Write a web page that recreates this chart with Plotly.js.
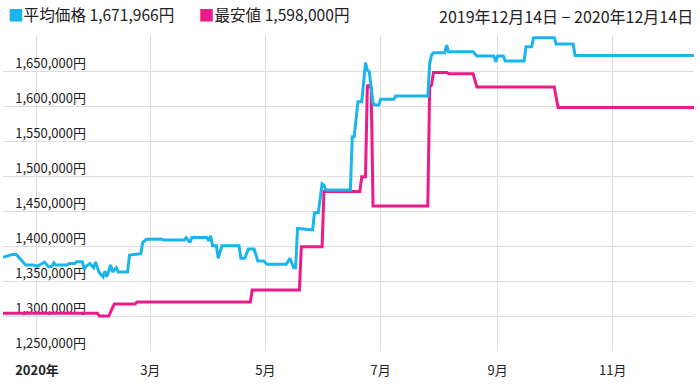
<!DOCTYPE html>
<html>
<head>
<meta charset="utf-8">
<script src="https://cdn.plot.ly/plotly-3.0.1.min.js"></script>
<style>html,body{margin:0;padding:0;background:#fff;}#chart{width:700px;height:388px;}</style>
</head>
<body>
<div id="chart"></div>
<script>
const seriesNames = ['平均価格', '最安値'];
const legendValues = ['1,671,966円', '1,598,000円'];
const seriesColors = ['#1bb5ee', '#ee1a8a'];
const periodText = '2019年12月14日 − 2020年12月14日';

const avgDates = ['2019-12-14','2019-12-17','2019-12-19','2019-12-21','2019-12-22','2019-12-24','2019-12-26','2019-12-30',
'2020-01-01','2020-01-03','2020-01-05','2020-01-07','2020-01-09','2020-01-10','2020-01-11','2020-01-17','2020-01-18','2020-01-21',
'2020-01-22','2020-01-25','2020-01-26','2020-01-27','2020-01-29','2020-01-31','2020-02-01','2020-02-02','2020-02-03','2020-02-05',
'2020-02-06','2020-02-07','2020-02-09','2020-02-10','2020-02-12','2020-02-13','2020-02-18','2020-02-19','2020-02-24','2020-02-25',
'2020-02-26','2020-02-28','2020-03-07','2020-03-08','2020-03-19','2020-03-20','2020-03-22','2020-03-23','2020-03-31','2020-04-01',
'2020-04-02','2020-04-03','2020-04-05','2020-04-06','2020-04-08','2020-04-17','2020-04-18','2020-04-20','2020-04-22','2020-04-25',
'2020-04-27','2020-04-30','2020-05-02','2020-05-12','2020-05-14','2020-05-16','2020-05-17','2020-05-18','2020-05-26','2020-05-27',
'2020-05-29','2020-05-31','2020-06-01','2020-06-02','2020-06-15','2020-06-16','2020-06-17','2020-06-19','2020-06-21','2020-06-23',
'2020-06-24','2020-06-25','2020-06-27','2020-06-28','2020-06-30','2020-07-01','2020-07-08','2020-07-09','2020-07-26','2020-07-27',
'2020-07-28','2020-07-29','2020-08-04','2020-08-05','2020-08-06','2020-08-19','2020-08-21','2020-08-30','2020-08-31','2020-09-01',
'2020-09-04','2020-09-05','2020-09-15','2020-09-16','2020-09-19','2020-09-20','2020-10-01','2020-10-02','2020-10-11','2020-10-12',
'2020-12-14'];
const avgValues = [1384000,1386000,1388000,1388000,1385000,1378000,1373000,1373000,
1371000,1374000,1377000,1370500,1371000,1376000,1373000,1373000,1375000,1375000,
1377600,1377600,1367000,1371000,1375000,1369000,1377000,1369000,1362000,1356000,
1364000,1356000,1373000,1363000,1369000,1363000,1363000,1387000,1388000,1389000,
1405000,1409500,1410000,1408600,1408600,1412000,1405000,1412000,1412000,1407000,
1414700,1400400,1400400,1382400,1400400,1400400,1382400,1382400,1395700,1395700,
1378600,1378600,1373800,1373800,1382400,1369000,1369000,1425000,1423000,1447600,
1447600,1489000,1487000,1480000,1480000,1556000,1556000,1606000,1606000,1662000,
1651000,1649000,1604000,1601400,1601400,1609500,1609500,1614300,1614300,1661000,
1673000,1676000,1676000,1687000,1677600,1677600,1671400,1671400,1663300,1671400,
1671400,1664300,1664300,1684700,1684700,1697600,1697600,1688600,1688600,1671966,
1671966];

const minDates = ['2019-12-14','2020-02-02','2020-02-03','2020-02-08','2020-02-10','2020-02-11','2020-02-22','2020-02-23',
'2020-04-23','2020-04-24','2020-05-19','2020-05-20','2020-05-31','2020-06-01','2020-06-20','2020-06-21','2020-06-23','2020-06-24',
'2020-06-26','2020-06-27','2020-07-26','2020-07-27','2020-07-28','2020-07-29','2020-08-05','2020-08-06','2020-08-19','2020-08-21',
'2020-10-01','2020-10-03','2020-12-14'];
const minValues = [1304000,1304000,1300000,1300000,1312000,1317000,1317000,1320000,
1320000,1337000,1337000,1399000,1399000,1478000,1478000,1499000,1499000,1630000,
1626000,1457000,1457000,1627000,1630000,1648000,1648000,1646000,1646000,1627000,
1627000,1598000,1598000];

const xTickVals = ['2020-01-01','2020-03-01','2020-05-01','2020-07-01','2020-09-01','2020-11-01'];
const xTickText = ['<b>2020年</b>','3月','5月','7月','9月','11月'];
const yTickVals = [1250000,1300000,1350000,1400000,1450000,1500000,1550000,1600000,1650000,1700000];
const yTickText = ['1,250,000円','1,300,000円','1,350,000円','1,400,000円','1,450,000円','1,500,000円','1,550,000円','1,600,000円','1,650,000円',''];

const font = '"Noto Sans CJK JP", "Noto Sans", sans-serif';

const traces = [
  {x: minDates, y: minValues, name: seriesNames[1], type: 'scatter', mode: 'lines',
   line: {color: seriesColors[1], width: 3}, hoverinfo: 'skip'},
  {x: avgDates, y: avgValues, name: seriesNames[0], type: 'scatter', mode: 'lines',
   line: {color: seriesColors[0], width: 3}, hoverinfo: 'skip'}
];

const layout = {
  width: 700, height: 388,
  margin: {l: 3, r: 6, t: 36, b: 37},
  paper_bgcolor: '#ffffff', plot_bgcolor: '#ffffff',
  showlegend: false,
  font: {family: font, size: 13, color: '#222'},
  xaxis: {
    type: 'date', range: ['2019-12-14', '2020-12-14'],
    domain: [0, 1],
    tickvals: xTickVals, ticktext: xTickText,
    showgrid: true, gridcolor: '#dddddd', gridwidth: 1,
    zeroline: false, showline: false, ticks: '',
    ticklabelstandoff: 10,
    tickfont: {family: font, size: 13, color: '#222'},
    layer: 'below traces', fixedrange: true
  },
  yaxis: {
    range: [1250000, 1700000],
    anchor: 'free', position: 0.12,
    tickvals: yTickVals, ticktext: yTickText,
    showgrid: true, gridcolor: '#dddddd', gridwidth: 1,
    zeroline: false, showline: false, ticks: '',
    ticklabelstandoff: 0,
    ticklabelshift: -8,
    tickfont: {family: font, size: 13, color: '#222'},
    layer: 'below traces', fixedrange: true
  },
  annotations: [
    {xref: 'paper', yref: 'paper', x: 0, y: 1, xshift: 3, yshift: 22, xanchor: 'left', yanchor: 'middle',
     showarrow: false, font: {family: font, size: 15.6, color: '#222'},
     text: '<span style="color:' + seriesColors[0] + '">■</span>' + seriesNames[0] + ' ' + legendValues[0] +
           '&nbsp;&nbsp;&nbsp;&nbsp;&nbsp;&nbsp;&nbsp;<span style="color:' + seriesColors[1] + '">■</span>' + seriesNames[1] + ' ' + legendValues[1]},
    {xref: 'paper', yref: 'paper', x: 1, y: 1, xshift: 1, yshift: 20, xanchor: 'right', yanchor: 'middle',
     showarrow: false, font: {family: font, size: 16, color: '#222'}, text: periodText}
  ]
};

Plotly.newPlot('chart', traces, layout, {displayModeBar: false, staticPlot: true});
</script>
</body>
</html>
